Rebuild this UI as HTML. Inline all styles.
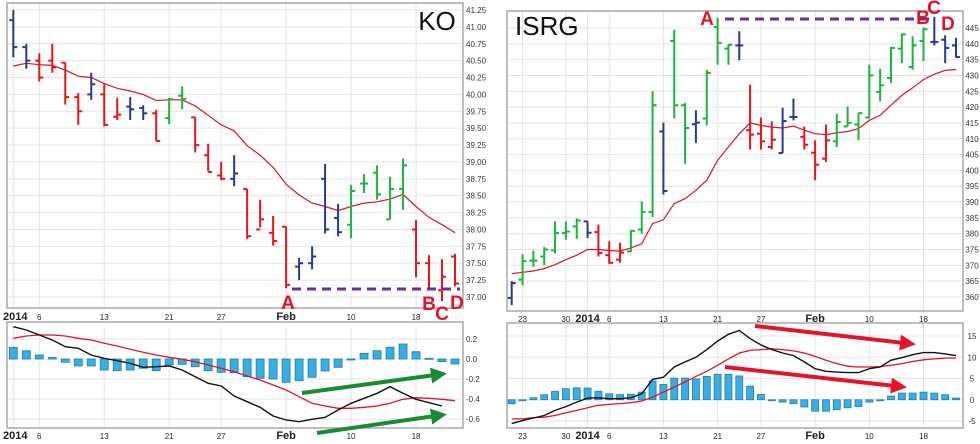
<!DOCTYPE html>
<html><head><meta charset="utf-8">
<style>
html,body{margin:0;padding:0;background:#fff;width:980px;height:444px;overflow:hidden}
svg{display:block;font-family:"Liberation Sans",sans-serif}
</style></head>
<body>
<svg id="chart" width="980" height="444" viewBox="0 0 980 444" xmlns="http://www.w3.org/2000/svg">
<defs>
<marker id="ag" markerWidth="6" markerHeight="6" refX="4" refY="3" orient="auto" markerUnits="strokeWidth"><path d="M0,0 L5,3 L0,6 Z" fill="#1a8a35"/></marker>
<marker id="ar" markerWidth="6" markerHeight="6" refX="4" refY="3" orient="auto" markerUnits="strokeWidth"><path d="M0,0 L5,3 L0,6 Z" fill="#e3142a"/></marker>
</defs>
</svg>
<script>
// ---------- KO data ----------
const koOpen =[41.1,40.7,40.5,40.5,40.47,39.96,40.0,40.0,39.67,39.82,39.8,39.72,39.65,39.98,39.66,39.1,38.8,38.75,38.6,38.0,37.95,38.04,37.45,37.5,38.75,38.17,38.07,38.68,38.84,38.15,38.6,38.0,37.5,37.1,37.6];
const koHigh =[41.25,40.75,40.61,40.75,40.47,40.02,40.32,40.15,39.95,39.96,39.84,39.77,39.95,40.12,39.66,39.27,39.0,39.1,38.6,38.44,38.2,38.04,37.58,37.75,38.97,38.38,38.66,38.82,38.95,38.78,39.05,38.14,37.62,37.56,37.64];
const koLow  =[40.55,40.38,40.19,40.32,39.85,39.55,39.92,39.53,39.62,39.62,39.62,39.31,39.56,39.78,39.14,38.86,38.73,38.64,37.86,38.03,37.76,37.13,37.25,37.41,37.94,37.9,37.87,38.54,38.44,38.15,38.29,37.29,37.1,36.94,37.16];
const koClose=[40.7,40.5,40.25,40.4,39.96,39.75,40.15,39.55,39.7,39.78,39.72,39.31,39.93,39.93,39.25,38.85,38.75,38.83,37.9,38.15,37.83,37.18,37.5,37.6,38.0,37.96,38.57,38.68,38.52,38.6,38.95,37.5,37.12,37.3,37.2];
const koColor=['b','b','r','r','r','r','b','r','r','b','b','r','g','g','r','r','r','b','r','r','r','r','b','b','b','b','g','g','g','g','g','r','r','r','r'];
const koMA   =[40.42,40.46,40.44,40.43,40.36,40.27,40.25,40.16,40.09,40.05,40.0,39.91,39.92,39.92,39.83,39.69,39.55,39.46,39.24,39.1,38.92,38.67,38.51,38.39,38.34,38.28,38.34,38.39,38.41,38.45,38.52,38.34,38.18,38.07,37.95];
const koHist =[0.117,0.083,0.04,0.015,-0.033,-0.07,-0.07,-0.11,-0.117,-0.11,-0.093,-0.117,-0.06,-0.053,-0.077,-0.117,-0.133,-0.137,-0.177,-0.193,-0.2,-0.233,-0.217,-0.183,-0.12,-0.083,-0.01,0.057,0.083,0.117,0.15,0.073,0.007,-0.027,-0.05];
const koMacd =[0.323,0.29,0.24,0.19,0.123,0.107,0.04,0.007,-0.017,-0.043,-0.083,-0.077,-0.07,-0.11,-0.177,-0.243,-0.27,-0.37,-0.427,-0.483,-0.57,-0.61,-0.627,-0.603,-0.583,-0.51,-0.443,-0.393,-0.343,-0.277,-0.343,-0.403,-0.437,-0.47];
const koSig  =[0.207,0.23,0.24,0.24,0.23,0.207,0.19,0.157,0.13,0.097,0.067,0.04,0.017,-0.003,-0.027,-0.06,-0.093,-0.127,-0.17,-0.21,-0.26,-0.31,-0.377,-0.443,-0.47,-0.493,-0.493,-0.483,-0.47,-0.443,-0.403,-0.387,-0.393,-0.403,-0.417];
const koPriceTicks=['41.25','41.00','40.75','40.50','40.25','40.00','39.75','39.50','39.25','39.00','38.75','38.50','38.25','38.00','37.75','37.50','37.25','37.00'];
const koMacdTicks=['0.2','0.0','-0.2','-0.4','-0.6'];
const koDateIdx=[0,2,7,12,16,21,26,31];
const koDateLbl=['2014','6','13','21','27','Feb','10','18'];
// ---------- ISRG data ----------
const isOpen =[359.7,365.5,371.5,372.8,374.7,380.2,382.3,383.9,380.5,373.2,371.8,374.4,381.3,386.9,412.3,440.9,420.6,414.6,416.4,445.3,438.5,439.5,412.7,411.6,407.4,405.5,416.9,410.6,405.6,403.7,409.2,413.9,414.5,416.7,424.8,429.2,438.5,432.7,440.9,440.6,441.3,439.5];
const isHigh =[365,373.5,374.7,375.8,383.9,383.9,384.8,383.9,382.9,377.6,377.1,381.1,390.2,425,415.1,444.5,421.3,419,431.8,448.2,439.8,444,427.1,416.7,415.5,419.8,422.7,413.9,409.5,414.5,417.9,420.2,418.1,433.4,432.1,439,443.2,442.4,445.1,448.5,442.7,441.9];
const isLow  =[357.4,363.7,369.5,370,373.7,378.1,378.4,378.6,372.8,370.5,370.8,374.2,380,385.3,392.4,416.4,402.1,408.7,414.2,433.4,433.4,434.8,406.6,406.6,406.6,405.5,415.8,406.6,396.9,402.7,407.4,413.9,409.5,416.4,421.8,427.6,433.9,431.8,434.6,439.5,433.9,435.6];
const isClose=[364.4,371.3,371.5,375,380.2,380.7,384.2,380.3,373.9,370.8,374,380.9,386.9,420.6,393.5,420.6,413.4,415.1,430.8,440.3,439.7,439.5,411.3,409.2,409.7,415.6,416.9,408.1,401.8,409.5,415.3,415,418.1,430,426.9,438.7,443,439.5,444.6,440.6,438.7,435.8];
const isColor=['b','g','g','g','g','g','g','b','r','r','r','g','g','g','b','g','g','b','g','g','g','b','r','r','r','b','b','r','r','r','g','g','g','g','g','g','g','g','g','b','b','b'];
const isMA   =[367.4,367.8,368.2,369,370.2,371.8,373.2,375,375,374.7,374.5,375.5,376.8,383.2,384.4,389.5,391.1,393.7,396.9,403.2,407.4,411.6,415,414.2,413.7,413.4,414,412.7,411.6,411.3,411.9,412.3,413.2,415.8,417.4,420.6,423.7,426.1,428.7,430.4,431.6,431.9];
const isHist =[-0.94,-0.2,0.47,1.18,1.96,2.6,2.8,2.75,2.0,1.4,1.2,1.3,1.8,4.4,3.6,5.1,5.1,4.9,5.5,6.0,6.0,5.6,3.2,1.25,-0.15,-0.55,-0.94,-1.7,-2.7,-2.7,-2.35,-1.9,-1.6,-0.55,-0.15,0.86,1.57,1.57,1.8,1.57,1.18,0.4];
const isMacd =[-5.6,-4.9,-4.3,-3.7,-2.5,-1.6,-0.55,0.4,0.47,0.24,0.24,0.47,1.4,4.8,5.3,7.7,8.9,10,11.8,13.8,15.4,16.3,14.4,12.9,11.8,11,10.4,8.9,7.3,6.7,6.5,6.4,6.4,7.3,7.7,9.3,9.9,10.6,11.1,11.1,10.8,10.4];
const isSig  =[-4.5,-4.5,-4.2,-4.1,-3.7,-3.1,-2.5,-1.9,-1.3,-1.1,-0.9,-0.7,-0.3,0.6,1.8,3.0,4.2,5.5,6.7,8.1,9.6,11,11.6,11.8,12,11.8,11.5,11,10.2,9.3,8.5,7.9,7.7,7.7,7.8,8.1,8.5,9,9.4,9.6,9.8,9.8];
const isPriceTicks=['445','440','435','430','425','420','415','410','405','400','395','390','385','380','375','370','365','360'];
const isMacdTicks=['15','10','5','0','-5'];
const isDateIdx=[1,5,7,9,14,19,23,28,33,38];
const isDateLbl=['23','30','2014','6','13','21','27','Feb','10','18'];

const svg=document.getElementById('chart');
const NS='http://www.w3.org/2000/svg';
const COL={r:'#e8141b',b:'#263a92',g:'#1eb43c'};
function mk(tag,attrs,parent){const e=document.createElementNS(NS,tag);for(const k in attrs)e.setAttribute(k,attrs[k]);(parent||svg).appendChild(e);return e;}
function txt(x,y,s,size,anchor,weight,fill,parent){const t=mk('text',{x:x,y:y,'font-size':size,'text-anchor':anchor,'font-weight':weight,fill:fill},parent);t.textContent=s;return t;}

function panel(cfg){
  const g=mk('g',{});
  
  
  const n=cfg.close.length;
  const X=i=>cfg.x0+i*(cfg.x1-cfg.x0)/(n-1);
  const pMax=parseFloat(cfg.pTicks[0]),pMin=parseFloat(cfg.pTicks[cfg.pTicks.length-1]);
  const PY=v=>cfg.py0+(pMax-v)/(pMax-pMin)*(cfg.py1-cfg.py0);
  const mMax=parseFloat(cfg.mTicks[0]),mMin=parseFloat(cfg.mTicks[cfg.mTicks.length-1]);
  const MY=v=>cfg.my0+(mMax-v)/(mMax-mMin)*(cfg.my1-cfg.my0);
  // grids
  const grid=mk('g',{stroke:'#e4e4e4','stroke-width':1},g);
  
  
  cfg.pTicks.forEach(t=>{const y=PY(parseFloat(t));mk('line',{x1:cfg.fx0,x2:cfg.fx1,y1:y,y2:y},grid);});
  cfg.mTicks.forEach(t=>{const y=MY(parseFloat(t));mk('line',{x1:cfg.fx0,x2:cfg.fx1,y1:y,y2:y},grid);});
  cfg.dIdx.forEach(i=>{mk('line',{x1:X(i),x2:X(i),y1:cfg.fy0,y2:cfg.fy1},grid);mk('line',{x1:X(i),x2:X(i),y1:cfg.my0-12,y2:cfg.mfy1},grid);});
  // frames
  const f1=mk('rect',{x:cfg.fx0,y:cfg.fy0,width:cfg.fx1-cfg.fx0,height:cfg.fy1-cfg.fy0,fill:'none',stroke:'#a8a8a8','stroke-width':1.5},g);
  
  
  const f2=mk('rect',{x:cfg.fx0,y:cfg.mfy0,width:cfg.fx1-cfg.fx0,height:cfg.mfy1-cfg.mfy0,fill:'none',stroke:'#a8a8a8','stroke-width':1.5},g);
  
  
  // y labels
  cfg.pTicks.forEach(t=>{const l=txt(cfg.lx,PY(parseFloat(t))+3,t,8,cfg.lAnchor,'normal','#333',g);
    
    });
  cfg.mTicks.forEach(t=>{const l=txt(cfg.lx,MY(parseFloat(t))+3,t,8,cfg.lAnchor,'normal','#333',g);
    
    });
  // x labels
  cfg.dIdx.forEach((i,k)=>{const s=cfg.dLbl[k];const bold=(s==='2014'||s==='Feb');
    [cfg.xl1,cfg.xl2].forEach(yy=>{const l=txt(s==='2014'&&cfg.name==='ko'?X(i)+2:X(i),yy,s,bold?11:8,'middle',bold?'bold':'normal','#222',g);
      
      });});
  // MA
  let d='';cfg.ma.forEach((v,i)=>{d+=(i?'L':'M')+X(i).toFixed(1)+','+PY(v).toFixed(1);});
  const ma=mk('path',{d:d,fill:'none',stroke:'#d8142a','stroke-width':1.2},g);
  
  
  // OHLC
  for(let i=0;i<n;i++){
    const bg=mk('g',{stroke:COL[cfg.color[i]],'stroke-width':2},g);
    
    
    const x=X(i);
    mk('line',{x1:x,x2:x,y1:PY(cfg.high[i]),y2:PY(cfg.low[i])},bg);
    mk('line',{x1:x-4,x2:x,y1:PY(cfg.open[i]),y2:PY(cfg.open[i])},bg);
    mk('line',{x1:x,x2:x+4,y1:PY(cfg.close[i]),y2:PY(cfg.close[i])},bg);
  }
  // histogram
  const z=MY(0);
  for(let i=0;i<n;i++){
    const y=MY(cfg.hist[i]);
    const r=mk('rect',{x:X(i)-cfg.bw/2,y:Math.min(y,z),width:cfg.bw,height:Math.max(1,Math.abs(y-z)),fill:'#3aaee0',stroke:'#1b7fae','stroke-width':0.8},g);
    
    
  }
  d='';cfg.sig.forEach((v,i)=>{d+=(i?'L':'M')+X(i).toFixed(1)+','+MY(v).toFixed(1);});
  const s=mk('path',{d:d,fill:'none',stroke:'#e3142a','stroke-width':1.3},g);
  
  
  d='';cfg.macd.forEach((v,i)=>{d+=(i?'L':'M')+X(i).toFixed(1)+','+MY(v).toFixed(1);});
  const m=mk('path',{d:d,fill:'none',stroke:'#111','stroke-width':1.4},g);
  
  
  return g;
}

panel({name:'ko',open:koOpen,high:koHigh,low:koLow,close:koClose,color:koColor,ma:koMA,hist:koHist,macd:koMacd,sig:koSig,
  pTicks:koPriceTicks,mTicks:koMacdTicks,dIdx:koDateIdx,dLbl:koDateLbl,
  x0:13.3,x1:455,py0:10,py1:297,my0:339,my1:419,fx0:7,fx1:463,fy0:3,fy1:308,mfy0:322,mfy1:428,
  lx:466,lAnchor:'start',xl1:320,xl2:439,bw:8});
panel({name:'isrg',open:isOpen,high:isHigh,low:isLow,close:isClose,color:isColor,ma:isMA,hist:isHist,macd:isMacd,sig:isSig,
  pTicks:isPriceTicks,mTicks:isMacdTicks,dIdx:isDateIdx,dLbl:isDateLbl,
  x0:511.7,x1:956,py0:28,py1:297,my0:336,my1:421,fx0:507,fx1:963,fy0:11,fy1:311,mfy0:323,mfy1:428,
  lx:972,lAnchor:'middle',xl1:322,xl2:439,bw:7});
</script>
<svg style="position:absolute;left:0;top:0" width="980" height="444">
  <text x="437" y="30" font-size="26" text-anchor="middle" font-family="Liberation Sans,sans-serif" fill="#111">KO</text>
  <text x="515" y="35" font-size="26" font-family="Liberation Sans,sans-serif" fill="#111">ISRG</text>
  <line x1="292" y1="289" x2="460" y2="289" stroke="#6a2e9e" stroke-width="3" stroke-dasharray="9,6"/>
  <line x1="725" y1="19" x2="932" y2="19" stroke="#6a2e9e" stroke-width="3" stroke-dasharray="9,6"/>
  <g font-family="Liberation Sans,sans-serif" font-weight="bold" font-size="19" fill="#e0142a" text-anchor="middle">
    <text x="288" y="309">A</text>
    <text x="429" y="310">B</text>
    <text x="442" y="320">C</text>
    <text x="457" y="309">D</text>
    <text x="707" y="25">A</text>
    <text x="923" y="24">B</text>
    <text x="934" y="14">C</text>
    <text x="948" y="30">D</text>
  </g>
  <defs>
    <marker id="ag2" markerWidth="4" markerHeight="4" refX="1" refY="2" orient="auto"><path d="M0,0 L4,2 L0,4 Z" fill="#1a8a35"/></marker>
    <marker id="ar2" markerWidth="4" markerHeight="4" refX="1" refY="2" orient="auto"><path d="M0,0 L4,2 L0,4 Z" fill="#e3142a"/></marker>
  </defs>
  <line x1="302" y1="393" x2="435" y2="375" stroke="#1a8a35" stroke-width="4" marker-end="url(#ag2)"/>
  <line x1="317" y1="433" x2="435" y2="416" stroke="#1a8a35" stroke-width="4" marker-end="url(#ag2)"/>
  <line x1="755" y1="326" x2="904" y2="343" stroke="#e3142a" stroke-width="4" marker-end="url(#ar2)"/>
  <line x1="725" y1="367" x2="895" y2="386" stroke="#e3142a" stroke-width="4" marker-end="url(#ar2)"/>
</svg>
</body></html>
